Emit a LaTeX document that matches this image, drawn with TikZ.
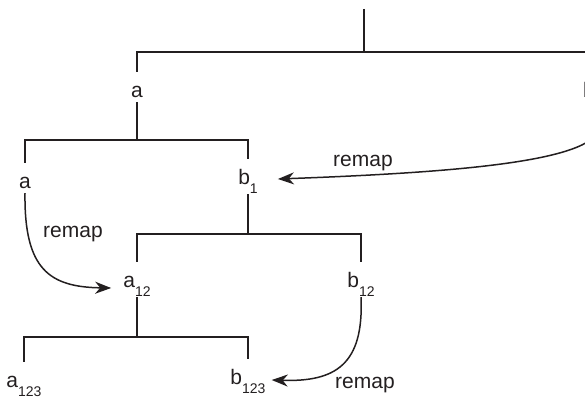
\documentclass[tikz,border=0pt]{standalone}
\usepackage{fontspec}
\setmainfont{Liberation Sans}
\usetikzlibrary{calc,arrows.meta}
\definecolor{ink}{HTML}{231F20}
% lowered index written after a variable name
\newcommand\subidx[1]{\raisebox{-9pt}{\fontsize{14}{14}\selectfont #1}}
\begin{document}
\begin{tikzpicture}[x=1pt,y=-1pt,
  every node/.style={text=ink,font=\fontsize{21}{25}\selectfont},
  var/.style={anchor=base,inner xsep=1pt,inner ysep=2pt,text height=23pt,text depth=3pt},
  varsub/.style={var,text depth=8pt},
  tree/.style={draw=ink,line width=1.6pt},
  remap/.style={draw=ink,line width=1.5pt,-{Stealth[length=16pt,width=12pt,inset=5pt]}},
  lbl/.style={anchor=base,inner sep=0pt}]
\useasboundingbox (0,0) rectangle (585,404);
\clip (0,0) rectangle (585,404);

% variables
\node[var] (ra) at (137,97) {a};
\node[var,anchor=base west,inner xsep=0pt] (rb) at (583,97) {b};
\node[var] (la) at (25,188) {a};
\node[varsub] (b1) at (248,184) {b\subidx{1}};
\node[varsub] (a12) at (137,287) {a\subidx{12}};
\node[varsub] (b12) at (361,287) {b\subidx{12}};
\node[varsub] (a123) at (24,387) {a\subidx{123}};
\node[varsub] (b123) at (248,384) {b\subidx{123}};

% bar levels of the tree
\coordinate (top) at (364,9);
\coordinate (bar0) at (0,52);
\coordinate (bar1) at (0,140);
\coordinate (bar2) at (0,234);
\coordinate (bar3) at (0,337);

% tree
\draw[tree] (top) -- (top |- bar0);
\draw[tree] (ra.north) -- (ra.north |- bar0) -- (rb.north |- bar0) -- (rb.north);
\draw[tree] (ra.south) -- (ra.south |- bar1);
\draw[tree] (la.north) -- (la.north |- bar1) -- (b1.north |- bar1) -- (b1.north);
\draw[tree] (b1.south) -- (b1.south |- bar2);
\draw[tree] (a12.north) -- (a12.north |- bar2) -- (b12.north |- bar2) -- (b12.north);
\draw[tree] (a12.south) -- (a12.south |- bar3);
\draw[tree] (a123.north) -- (a123.north |- bar3) -- (b123.north |- bar3) -- (b123.north);

% remap arrows
\coordinate (rs) at (600,125);
\draw[remap] (rs) .. controls (600,160) and (470,172) .. ($(b1.base east)+(19,-5)$);
\draw[remap] (la.south) .. controls (24,270) and (50,287) .. ($(a12.base west)+(-11,1)$);
\draw[remap] (b12.south) .. controls (364,365) and (335,382) .. ($(b123.base east)+(5,-4)$);

\node[lbl] (r1) at (363,166) {remap};
\node[lbl] (r2) at (73,237) {remap};
\node[lbl] (r3) at (365,388) {remap};
\end{tikzpicture}
\end{document}
